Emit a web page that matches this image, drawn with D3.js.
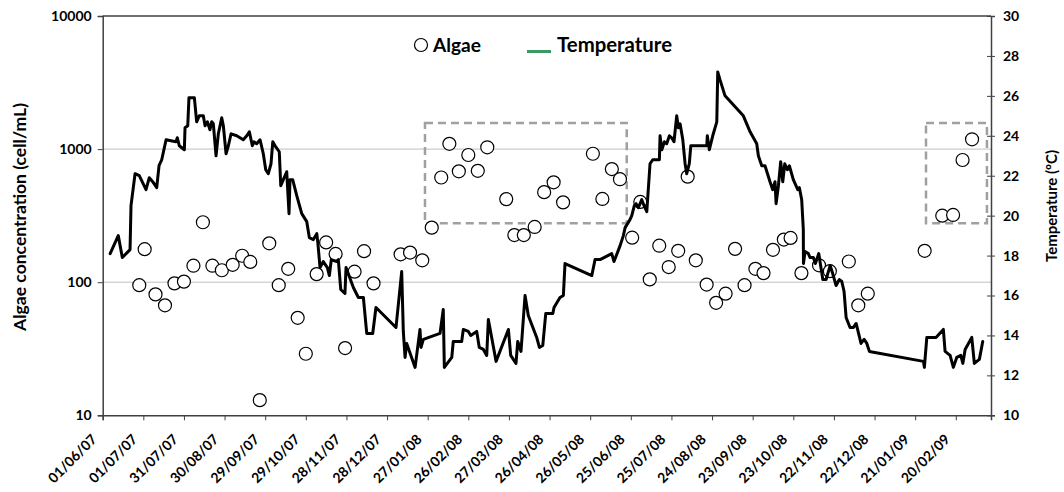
<!DOCTYPE html>
<html><head><meta charset="utf-8">
<script src="https://cdn.jsdelivr.net/npm/d3@7"></script>
<style>
html,body{margin:0;padding:0;background:#fff;}
svg{display:block;font-family:Lato,"Open Sans",sans-serif;font-weight:bold;}
</style></head>
<body><svg id="chart" width="1064" height="492"></svg>
<script>
const startDate = "2007-06-01";
const endDate = "2009-03-18";
const tickStepDays = 30;
const tickCount = 22;
const leftTicks = [10, 100, 1000, 10000];
const rightTicks = [10, 12, 14, 16, 18, 20, 22, 24, 26, 28, 30];
const gridValues = [100, 1000];

const algaeDates = ["2007-06-28","2007-07-02","2007-07-10","2007-07-17","2007-07-24","2007-07-31","2007-08-07","2007-08-14","2007-08-21","2007-08-28","2007-09-05","2007-09-12","2007-09-18","2007-09-25","2007-10-02","2007-10-09","2007-10-16","2007-10-23","2007-10-29","2007-11-06","2007-11-13","2007-11-20","2007-11-27","2007-12-04","2007-12-11","2007-12-18","2008-01-07","2008-01-14","2008-01-23","2008-01-30","2008-02-06","2008-02-12","2008-02-19","2008-02-26","2008-03-04","2008-03-11","2008-03-25","2008-03-31","2008-04-07","2008-04-15","2008-04-22","2008-04-29","2008-05-06","2008-05-28","2008-06-04","2008-06-11","2008-06-17","2008-06-26","2008-07-02","2008-07-09","2008-07-16","2008-07-23","2008-07-30","2008-08-06","2008-08-12","2008-08-20","2008-08-27","2008-09-03","2008-09-10","2008-09-17","2008-09-25","2008-10-01","2008-10-08","2008-10-16","2008-10-21","2008-10-29","2008-11-11","2008-11-19","2008-12-03","2008-12-10","2008-12-17","2009-01-28","2009-02-10","2009-02-18","2009-02-25","2009-03-04"];
const algaeValues = [95,177,81,67,98,101,133,282,133,123,135,158,142,13,196,95,126,54,29,115,199,163,32,120,171,98,162,167,146,257,612,1096,681,903,687,1032,421,226,226,260,475,563,398,923,422,708,594,216,401,105,188,130,172,621,146,96,70,82,178,95,126,117,175,209,215,117,134,121,143,67,82,172,316,320,828,1185];

// days since startDate
const tempDays = [5.5,11.5,14.5,20.2,20.9,23.9,27.0,32.0,34.4,36.9,39.9,41.6,43.6,46.8,54.1,55.1,56.6,60.3,60.8,62.8,63.7,67.7,69.4,71.3,74.3,75.6,77.3,79.2,80.5,81.7,83.7,85.4,87.9,89.1,91.1,92.8,94.8,99.0,103.8,106.4,108.3,110.5,111.7,113.7,116.2,118.6,120.4,122.3,124.3,125.6,127.3,130.4,131.5,133.4,135.9,137.6,138.3,140.3,143.3,147.0,150.7,152.6,155.6,158.1,158.8,160.5,162.9,165.9,167.4,168.8,172.8,174.0,175.8,178.9,179.7,185.1,188.8,192.5,195.0,199.4,201.8,216.6,220.8,222.0,223.3,224.5,230.7,234.3,235.1,236.8,249.1,251.5,252.3,257.8,258.9,265.1,266.3,270.0,271.8,276.2,278.1,281.1,283.6,284.8,290.5,299.6,301.3,305.2,306.5,308.9,311.9,314.3,320.5,322.5,325.0,327.2,329.1,332.4,333.3,337.7,340.2,341.4,361.2,363.6,367.3,375.9,377.6,382.1,384.5,385.8,389.4,390.7,392.6,393.9,395.6,398.1,399.8,401.8,404.2,406.2,411.1,411.6,412.9,414.8,416.5,418.5,420.2,421.9,423.9,425.1,426.4,428.4,430.1,431.3,433.2,434.3,446.1,446.5,448.0,450.5,453.5,454.2,455.9,459.6,473.1,478.1,483.0,484.2,486.7,489.1,492.8,494.8,496.5,497.3,499.0,500.7,502.2,503.7,505.6,507.1,510.0,513.3,514.5,516.2,517.4,517.5,518.7,521.1,522.4,524.8,526.3,528.8,531.8,534.2,537.2,539.1,541.6,544.0,545.8,547.5,549.0,551.9,554.4,556.4,560.0,562.3,564.3,566.2,606.1,606.8,608.6,615.4,620.8,622.1,625.8,628.2,630.7,633.7,635.2,636.9,641.8,643.7,647.4,649.9];
const tempValues = [18.1,19.0,17.9,18.3,20.5,22.1,22.0,21.3,21.9,21.7,21.4,22.5,22.8,23.8,23.7,23.9,23.5,23.3,24.4,24.5,25.9,25.9,24.7,25.0,25.0,24.5,24.7,24.3,24.7,24.6,23.0,24.1,24.9,24.5,23.1,23.5,24.1,24.0,23.8,24.0,24.2,23.5,23.7,23.6,23.8,23.1,22.3,22.1,22.6,23.7,23.5,23.2,21.5,21.8,22.2,20.1,21.8,21.8,21.0,20.1,19.7,18.9,18.8,19.1,18.7,17.4,17.7,17.4,17.0,17.8,17.7,17.8,16.3,16.1,17.4,16.4,15.9,15.9,14.1,14.1,15.4,14.4,17.2,14.2,12.9,13.6,12.4,14.3,13.4,13.8,14.1,15.3,12.4,12.9,13.7,13.7,14.3,14.2,14.0,14.2,13.4,13.3,13.0,14.8,12.7,14.3,13.0,12.6,13.7,13.2,16.0,15.0,13.9,13.4,13.5,15.1,15.1,15.1,15.4,15.9,16.0,17.6,17.0,17.8,17.8,18.1,17.7,18.5,19.0,19.4,19.8,20.0,20.5,20.6,20.4,20.8,20.5,20.2,22.6,22.8,22.8,24.0,23.3,23.7,23.6,24.0,23.9,23.7,25.0,24.4,24.6,23.8,22.6,22.1,22.6,23.5,23.5,24.0,23.3,24.0,24.7,27.2,26.8,26.0,25.0,24.2,23.6,23.0,22.5,22.5,21.7,21.3,21.7,20.6,21.5,22.7,21.7,22.6,22.3,22.5,21.8,21.3,21.4,20.8,19.3,17.6,18.2,18.1,17.9,17.9,17.6,18.1,16.8,16.8,17.5,17.1,16.5,16.8,16.7,16.2,14.9,14.4,14.4,14.6,13.6,13.8,13.6,13.2,12.7,12.4,13.9,13.9,14.3,13.2,13.0,12.4,12.9,13.0,12.6,13.3,13.9,12.6,12.8,13.7];

// highlighted periods: [start, end, low, high] (cell/mL)
const boxStarts = ["2008-01-25", "2009-01-29"];
const boxEnds = ["2008-06-22", "2009-03-15"];
const boxLow = [277, 277];
const boxHigh = [1570, 1570];

const legendLabels = ["Algae", "Temperature"];
const leftTitle = "Algae concentration (cell/mL)";
const rightTitle = "Temperature (ºC)";

const parse = d3.utcParse("%Y-%m-%d");
const fmt = d3.utcFormat("%d/%m/%y");
const t0 = parse(startDate);
const dayMs = 864e5;

const L = 102.7, R = 991, T = 16, B = 415.3;
const svg = d3.select("#chart");

const x = d3.scaleUtc().domain([t0, parse(endDate)]).range([L, R]);
const yL = d3.scaleLog().domain([10, 10000]).range([B, T]);
const yR = d3.scaleLinear().domain([10, 30]).range([B, T]);

const axisColor = "#404040";

// gridlines
svg.append("g").selectAll("line").data(gridValues).join("line")
  .attr("x1", L).attr("x2", R).attr("y1", d => yL(d)).attr("y2", d => yL(d))
  .attr("stroke", "#bfbfbf").attr("stroke-width", 1);
// top border
svg.append("line").attr("x1", L).attr("x2", R).attr("y1", T).attr("y2", T)
  .attr("stroke", axisColor).attr("stroke-width", 1.5);

// dashed boxes
svg.append("g").selectAll("rect").data(boxStarts.map((s, i) => i)).join("rect")
  .attr("x", i => x(parse(boxStarts[i])))
  .attr("width", i => x(parse(boxEnds[i])) - x(parse(boxStarts[i])))
  .attr("y", i => yL(boxHigh[i]))
  .attr("height", i => yL(boxLow[i]) - yL(boxHigh[i]))
  .attr("fill", "none").attr("stroke", "#a0a0a0").attr("stroke-width", 2.5)
  .attr("stroke-dasharray", "8,5");

// axes
const tickDates = d3.range(tickCount).map(i => new Date(t0.getTime() + i * tickStepDays * dayMs));
const gx = svg.append("g").attr("transform", `translate(0,${B})`)
  .call(d3.axisBottom(x).tickValues(tickDates).tickSize(5).tickFormat(""));
gx.select(".domain").attr("stroke", axisColor).attr("stroke-width", 1.5);
gx.selectAll(".tick line").attr("stroke", axisColor);
svg.append("g").selectAll("text").data(tickDates).join("text")
  .attr("transform", d => `translate(${x(d) - 5},${B + 25}) rotate(-45)`)
  .attr("text-anchor", "end").attr("font-size", 14).attr("fill", "#000")
  .text(d => fmt(d));

const gl = svg.append("g").attr("transform", `translate(${L},0)`)
  .call(d3.axisLeft(yL).tickValues(leftTicks).tickSize(5).tickFormat(d3.format("d")).tickPadding(6));
gl.select(".domain").attr("stroke", axisColor).attr("stroke-width", 1.5);
gl.selectAll(".tick line").attr("stroke", axisColor);
gl.selectAll(".tick text").attr("font-size", 14).attr("font-family", "Lato").attr("font-weight", "bold").attr("fill", "#000");

const gr = svg.append("g").attr("transform", `translate(${R},0)`)
  .call(d3.axisRight(yR).tickValues(rightTicks).tickSize(4).tickPadding(8));
gr.select(".domain").attr("stroke", axisColor).attr("stroke-width", 1.5);
gr.selectAll(".tick line").attr("stroke", axisColor).attr("x1", -4);
gr.selectAll(".tick text").attr("font-size", 14).attr("font-family", "Lato").attr("font-weight", "bold").attr("fill", "#000");

// fit helper
function fit(sel, target) {
  const n = sel.node(); const fs = parseFloat(sel.attr("font-size"));
  const w = n.getComputedTextLength();
  sel.attr("font-size", (fs * target / w).toFixed(2));
}

// titles
fit(svg.append("text").attr("transform", "translate(26,217) rotate(-90)")
  .attr("text-anchor", "middle").attr("font-size", 15).text(leftTitle), 228);
fit(svg.append("text").attr("transform", "translate(1057,206) rotate(-90)")
  .attr("text-anchor", "middle").attr("font-size", 14).text(rightTitle), 112);

// algae points
const algae = algaeDates.map((d, i) => ({date: parse(d), v: algaeValues[i]}));
svg.append("g").selectAll("circle").data(algae).join("circle")
  .attr("cx", d => x(d.date)).attr("cy", d => yL(d.v)).attr("r", 6.5)
  .attr("fill", "#fff").attr("stroke", "#000").attr("stroke-width", 1.2);

// temperature line
const temp = tempDays.map((d, i) => ({date: new Date(t0.getTime() + d * dayMs), v: tempValues[i]}));
svg.append("path").datum(temp)
  .attr("d", d3.line().x(d => x(d.date)).y(d => yR(d.v)))
  .attr("fill", "none").attr("stroke", "#000").attr("stroke-width", 3)
  .attr("stroke-linejoin", "round").attr("stroke-linecap", "round");

// legend
svg.append("circle").attr("cx", 421).attr("cy", 45).attr("r", 6.5)
  .attr("fill", "#fff").attr("stroke", "#000").attr("stroke-width", 1.2);
fit(svg.append("text").attr("x", 433).attr("y", 51.5).attr("font-size", 18).text(legendLabels[0]), 48);
svg.append("line").attr("x1", 527).attr("x2", 551).attr("y1", 51.5).attr("y2", 51.5)
  .attr("stroke", "#3a9a62").attr("stroke-width", 3);
fit(svg.append("text").attr("x", 557).attr("y", 52).attr("font-size", 18).text(legendLabels[1]), 115);
</script></body></html>
